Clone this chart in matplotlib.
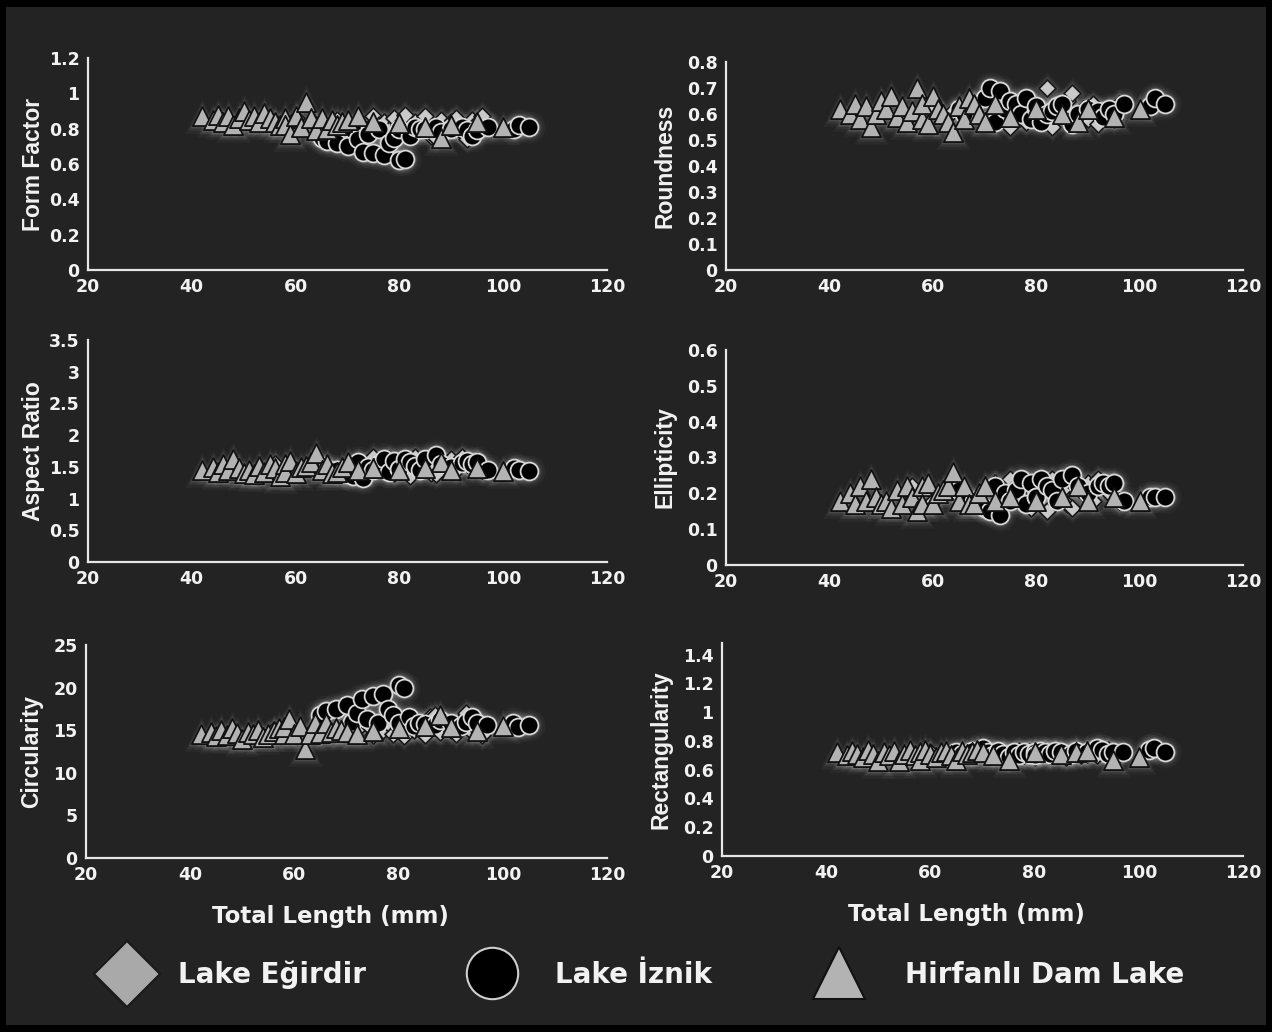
import matplotlib
matplotlib.use("Agg")
import matplotlib.pyplot as plt
from matplotlib.patches import Rectangle
from matplotlib.lines import Line2D
from matplotlib.ticker import FuncFormatter
import numpy as np

# Lake Eğirdir (diamonds)
tl_egirdir = [56, 60, 64, 68, 72, 74, 75, 76, 77, 78, 79, 80, 81, 82, 83, 84, 85, 86, 87, 88, 89, 90, 91, 92, 93, 94, 95, 96]
ff_egirdir = [0.84, 0.86, 0.82, 0.85, 0.83, 0.80, 0.87, 0.82, 0.84, 0.79, 0.86, 0.82, 0.88, 0.80, 0.84, 0.83, 0.87, 0.76, 0.75, 0.85, 0.80, 0.84, 0.86, 0.78, 0.74, 0.85, 0.83, 0.87]
round_egirdir = [0.60, 0.63, 0.61, 0.64, 0.59, 0.62, 0.55, 0.60, 0.63, 0.57, 0.65, 0.61, 0.59, 0.70, 0.55, 0.63, 0.61, 0.65, 0.68, 0.60, 0.62, 0.58, 0.64, 0.56, 0.60, 0.62, 0.58, 0.64]
ar_egirdir = [1.55, 1.45, 1.52, 1.42, 1.58, 1.50, 1.65, 1.55, 1.48, 1.62, 1.40, 1.52, 1.58, 1.35, 1.65, 1.45, 1.52, 1.40, 1.38, 1.55, 1.50, 1.62, 1.45, 1.65, 1.55, 1.50, 1.60, 1.45]
ell_egirdir = [0.22, 0.18, 0.21, 0.17, 0.23, 0.20, 0.24, 0.22, 0.19, 0.23, 0.16, 0.21, 0.23, 0.15, 0.24, 0.18, 0.21, 0.17, 0.16, 0.22, 0.20, 0.23, 0.18, 0.24, 0.22, 0.20, 0.23, 0.18]
circ_egirdir = [15.0, 14.6, 15.3, 14.8, 15.1, 15.7, 14.4, 15.3, 15.0, 15.9, 14.6, 15.3, 14.3, 15.7, 15.0, 15.1, 14.4, 16.5, 16.8, 14.8, 15.7, 15.0, 14.6, 16.1, 17.0, 14.8, 15.1, 14.4]
rect_egirdir = [0.70, 0.72, 0.69, 0.71, 0.70, 0.72, 0.68, 0.71, 0.73, 0.70, 0.72, 0.69, 0.71, 0.73, 0.70, 0.72, 0.71, 0.69, 0.72, 0.74, 0.70, 0.71, 0.73, 0.70, 0.72, 0.74, 0.71, 0.70]

# Lake İznik (circles)
tl_iznik = [65, 66, 68, 70, 71, 72, 73, 74, 75, 76, 77, 78, 79, 80, 80, 81, 82, 83, 84, 85, 87, 88, 90, 92, 93, 94, 95, 97, 102, 103, 105]
ff_iznik = [0.75, 0.73, 0.72, 0.70, 0.79, 0.74, 0.67, 0.77, 0.66, 0.80, 0.65, 0.72, 0.75, 0.62, 0.80, 0.63, 0.76, 0.81, 0.80, 0.80, 0.81, 0.78, 0.80, 0.81, 0.79, 0.76, 0.79, 0.81, 0.80, 0.82, 0.81]
round_iznik = [0.62, 0.60, 0.64, 0.66, 0.70, 0.57, 0.69, 0.62, 0.65, 0.64, 0.60, 0.66, 0.58, 0.62, 0.63, 0.57, 0.60, 0.61, 0.63, 0.64, 0.56, 0.60, 0.62, 0.61, 0.59, 0.62, 0.60, 0.64, 0.63, 0.66, 0.64]
ar_iznik = [1.52, 1.46, 1.45, 1.38, 1.35, 1.58, 1.32, 1.50, 1.45, 1.55, 1.62, 1.42, 1.60, 1.46, 1.47, 1.62, 1.58, 1.52, 1.45, 1.62, 1.68, 1.55, 1.50, 1.56, 1.60, 1.55, 1.58, 1.45, 1.48, 1.45, 1.44]
ell_iznik = [0.21, 0.19, 0.18, 0.16, 0.15, 0.22, 0.14, 0.20, 0.18, 0.21, 0.24, 0.17, 0.23, 0.19, 0.19, 0.24, 0.22, 0.21, 0.18, 0.24, 0.25, 0.22, 0.20, 0.22, 0.23, 0.22, 0.23, 0.18, 0.19, 0.19, 0.19]
circ_iznik = [16.8, 17.2, 17.5, 18.0, 16.0, 17.0, 18.7, 16.3, 19.0, 15.8, 19.3, 17.5, 16.8, 20.3, 15.8, 20.0, 16.5, 15.5, 15.8, 15.7, 15.6, 16.2, 15.8, 15.5, 16.0, 16.5, 15.9, 15.6, 15.8, 15.4, 15.6]
rect_iznik = [0.72, 0.71, 0.73, 0.75, 0.72, 0.70, 0.73, 0.71, 0.69, 0.72, 0.70, 0.72, 0.71, 0.72, 0.70, 0.73, 0.72, 0.71, 0.73, 0.72, 0.71, 0.73, 0.72, 0.75, 0.74, 0.71, 0.72, 0.72, 0.74, 0.75, 0.72]

# Hirfanlı Dam Lake (triangles)
tl_hirfanli = [42, 44, 45, 46, 47, 48, 49, 50, 51, 52, 53, 54, 55, 56, 57, 58, 58, 59, 60, 61, 62, 63, 64, 65, 66, 67, 68, 69, 70, 72, 75, 80, 85, 88, 90, 95, 100]
ff_hirfanli = [0.87, 0.85, 0.88, 0.84, 0.87, 0.82, 0.86, 0.90, 0.85, 0.87, 0.84, 0.89, 0.86, 0.84, 0.82, 0.86, 0.82, 0.77, 0.87, 0.81, 0.95, 0.86, 0.79, 0.86, 0.80, 0.85, 0.82, 0.84, 0.85, 0.87, 0.84, 0.83, 0.81, 0.75, 0.82, 0.84, 0.81]
round_hirfanli = [0.62, 0.60, 0.64, 0.58, 0.63, 0.55, 0.60, 0.65, 0.62, 0.67, 0.59, 0.63, 0.57, 0.61, 0.70, 0.58, 0.64, 0.56, 0.67, 0.62, 0.60, 0.57, 0.53, 0.63, 0.58, 0.66, 0.64, 0.60, 0.57, 0.64, 0.59, 0.62, 0.60, 0.57, 0.62, 0.59, 0.62]
ar_hirfanli = [1.45, 1.50, 1.42, 1.55, 1.45, 1.62, 1.48, 1.40, 1.45, 1.38, 1.52, 1.42, 1.55, 1.48, 1.35, 1.55, 1.42, 1.60, 1.40, 1.50, 1.52, 1.58, 1.72, 1.45, 1.55, 1.40, 1.42, 1.50, 1.58, 1.45, 1.48, 1.45, 1.48, 1.58, 1.45, 1.48, 1.43]
ell_hirfanli = [0.18, 0.20, 0.17, 0.22, 0.18, 0.24, 0.19, 0.17, 0.18, 0.16, 0.21, 0.17, 0.22, 0.19, 0.15, 0.22, 0.17, 0.23, 0.17, 0.20, 0.21, 0.22, 0.26, 0.18, 0.22, 0.17, 0.17, 0.20, 0.22, 0.18, 0.19, 0.18, 0.19, 0.22, 0.18, 0.19, 0.18]
circ_hirfanli = [14.5, 14.8, 14.3, 15.0, 14.4, 15.3, 14.7, 14.0, 14.8, 14.5, 15.0, 14.2, 14.6, 14.9, 15.3, 14.6, 15.4, 16.3, 14.5, 15.5, 12.8, 14.6, 15.9, 14.7, 15.8, 14.8, 15.3, 15.0, 14.8, 14.5, 14.9, 15.2, 15.5, 16.8, 15.4, 14.9, 15.5]
rect_hirfanli = [0.72, 0.70, 0.73, 0.71, 0.69, 0.74, 0.71, 0.66, 0.72, 0.70, 0.73, 0.66, 0.71, 0.74, 0.70, 0.72, 0.67, 0.74, 0.71, 0.69, 0.72, 0.73, 0.70, 0.67, 0.73, 0.71, 0.72, 0.74, 0.72, 0.70, 0.67, 0.72, 0.71, 0.72, 0.73, 0.67, 0.69]

lake_names = ["Lake Eğirdir", "Lake İznik", "Hirfanlı Dam Lake"]
x_ticks = [20, 40, 60, 80, 100, 120]

W, H = 1272, 1032
BG = "#232323"
TXT = "#f2f2f2"

fig = plt.figure(figsize=(W / 100, H / 100), dpi=100, facecolor="black")
fig.add_artist(Rectangle((6 / W, 7 / H), 1260 / W, 1018 / H, transform=fig.transFigure,
                         facecolor=BG, edgecolor="none", zorder=-10))

# marker styles per lake
styles = [
    dict(marker="D", s=75, face="#c9c9c9", edge="#1a1a1a"),
    dict(marker="o", s=165, face="black", edge="#d8d8d8"),
    dict(marker="^", s=190, face="#b3b3b3", edge="#111111"),
]

# (label, ylim top, tick step, data per lake, axes box in pixels: x0, x1, ytop, ybottom)
panels = [
    ("Form Factor", 1.2, 0.2, [ff_egirdir, ff_iznik, ff_hirfanli], (88, 607, 58, 270)),
    ("Roundness", 0.8, 0.1, [round_egirdir, round_iznik, round_hirfanli], (726, 1243, 62, 270)),
    ("Aspect Ratio", 3.5, 0.5, [ar_egirdir, ar_iznik, ar_hirfanli], (88, 607, 340, 562)),
    ("Ellipticity", 0.6, 0.1, [ell_egirdir, ell_iznik, ell_hirfanli], (726, 1243, 350, 565)),
    ("Circularity", 25, 5, [circ_egirdir, circ_iznik, circ_hirfanli], (86, 607, 645, 858)),
    ("Rectangularity", 1.48, 0.2, [rect_egirdir, rect_iznik, rect_hirfanli], (722, 1243, 643, 856)),
]
tls = [tl_egirdir, tl_iznik, tl_hirfanli]

fmt = FuncFormatter(lambda v, p: f"{v:g}")

for i, (label, ytop, step, values, box) in enumerate(panels):
    x0, x1, yt, yb = box
    ax = fig.add_axes([x0 / W, 1 - yb / H, (x1 - x0) / W, (yb - yt) / H])
    ax.set_facecolor("none")

    # soft white glow under the markers
    for tl, vals, st in zip(tls, values, styles):
        for k, a in [(3.2, 0.035), (2.2, 0.055), (1.55, 0.1)]:
            ax.scatter(tl, vals, marker=st["marker"], s=st["s"] * k, color="white",
                       alpha=a, linewidths=0, zorder=1)
    for j, (tl, vals, st) in enumerate(zip(tls, values, styles)):
        ax.scatter(tl, vals, marker=st["marker"], s=st["s"], facecolor=st["face"],
                   edgecolor=st["edge"], linewidths=1.3, zorder=2 + j)

    ax.set_xlim(20, 120)
    ax.set_ylim(0, ytop)
    ax.set_xticks(x_ticks)
    top_tick = step * np.floor(ytop / step + 1e-6)
    ax.set_yticks(np.arange(0, top_tick + step / 2, step))
    ax.yaxis.set_major_formatter(fmt)

    for side in ["top", "right"]:
        ax.spines[side].set_visible(False)
    for side in ["left", "bottom"]:
        ax.spines[side].set_color("#e6e6e6")
        ax.spines[side].set_linewidth(1.6)
    ax.tick_params(length=0, colors=TXT, pad=6)
    for t in ax.get_xticklabels() + ax.get_yticklabels():
        t.set_fontfamily("DejaVu Sans")
        t.set_fontweight("bold")
        t.set_fontsize(12.5)

    ax.set_ylabel(label, color=TXT, fontsize=16.5, fontweight="bold", family="Liberation Sans")
    ax.yaxis.set_label_coords(-0.082 if x0 < 600 else -0.095, 0.5)

    if i >= 4:
        ax.set_xlabel("Total Length (mm)", color=TXT, fontsize=16.5, fontweight="bold",
                      family="DejaVu Sans")
        ax.xaxis.set_label_coords(0.47, -47 / (yb - yt))

# legend, one entry per lake
legend_pos = [(94, 0.62, 34), (459, 1.05, 37), (806, 1.15, 38)]
for name, st, (xl, pad, ms) in zip(lake_names, styles, legend_pos):
    h = Line2D([], [], linestyle="none", marker=st["marker"], markersize=ms,
               markerfacecolor=st["face"], markeredgecolor=st["edge"], markeredgewidth=1.5)
    if st["marker"] == "o":
        h.set_markeredgecolor("#cfcfcf")
    if st["marker"] == "D":
        h.set_markerfacecolor("#a9a9a9")
    leg = fig.legend([h], [name], loc="center left", bbox_to_anchor=(xl / W, 1 - 975 / H),
                     frameon=False, borderpad=0, borderaxespad=0, handlelength=2.4,
                     handletextpad=pad, prop=dict(family="DejaVu Sans", weight="bold", size=20))
    for t in leg.get_texts():
        t.set_color(TXT)

fig.savefig("out.png", dpi=100, facecolor="black")
